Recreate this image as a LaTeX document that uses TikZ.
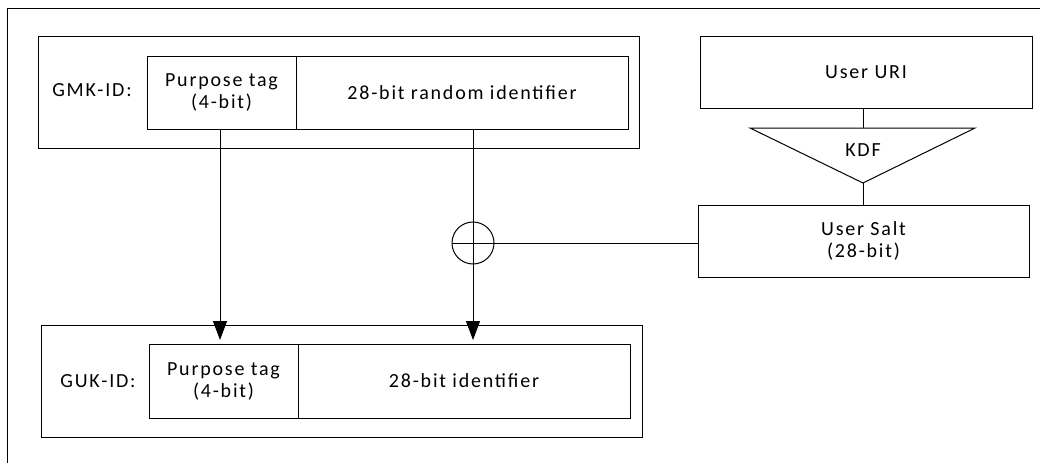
\documentclass[tikz,border=0pt]{standalone}
\usepackage{fontspec}
\setmainfont{Carlito}[LetterSpace=9]
\usetikzlibrary{arrows.meta,shapes.geometric}
\begin{document}
\begin{tikzpicture}[x=1pt,y=-1pt,
  every node/.style={font=\fontsize{20}{22}\selectfont},
  box/.style={draw,line width=1pt,rectangle,inner sep=0pt,align=center},
  ln/.style={line width=1pt},
  arr/.style={line width=1pt,-{Triangle[length=19pt,width=14pt]}}]
\useasboundingbox (0,0) rectangle (1040,463);
% outer frame (cropped)
\draw[ln] (1040,8) -- (7,8) -- (7,463);
% GMK
\node[box,minimum width=601pt,minimum height=112pt] (gmk) at (338.5,92) {};
\node (gmkl) at (92,90) {GMK-ID:};
\node[box,minimum width=149pt,minimum height=73pt] (pt1) at (221.5,92.5) {Purpose tag\\(4-bit)};
\node[box,minimum width=332pt,minimum height=73pt] (rnd) at (462,92.5) {28-bit random identifier};
% GUK
\node[box,minimum width=601pt,minimum height=112pt] (guk) at (341.5,381) {};
\node (gukl) at (98,381) {GUK-ID:};
\node[box,minimum width=149pt,minimum height=74pt] (pt2) at (223.5,381) {Purpose tag\\(4-bit)};
\node[box,minimum width=332pt,minimum height=74pt] (gid) at (464,381) {28-bit identifier};
% right side
\node[box,minimum width=332pt,minimum height=72pt] (uri) at (866,72) {User URI};
\node[box,minimum width=331pt,minimum height=72pt] (salt) at (863.5,241) {User Salt\\(28-bit)};
\draw[ln] (750,128) -- (975,128) -- (863,183) -- cycle;
\node (kdf) at (863,150) {KDF};
\coordinate (ktop) at (863,128);
\coordinate (kbot) at (863,183);
\draw[ln] (uri.south -| ktop) -- (ktop);
\draw[ln] (kbot) -- (salt.north -| kbot);
% XOR
\node[draw,line width=1pt,circle,minimum size=42pt,inner sep=0pt] (xor) at (473,243) {};
\draw[ln] (xor.north) -- (xor.south);
\draw[ln] (xor.west) -- (xor.east);
\draw[ln] (xor.east) -- (salt.west |- xor);
\coordinate (a1s) at (220,129);
\coordinate (a1e) at (220,340);
\coordinate (a2e) at (473,340);
\draw[arr] (a1s) -- (a1e);
\draw[ln] (rnd.south -| xor) -- (xor.north);
\draw[arr] (xor.south) -- (a2e);
\end{tikzpicture}
\end{document}
